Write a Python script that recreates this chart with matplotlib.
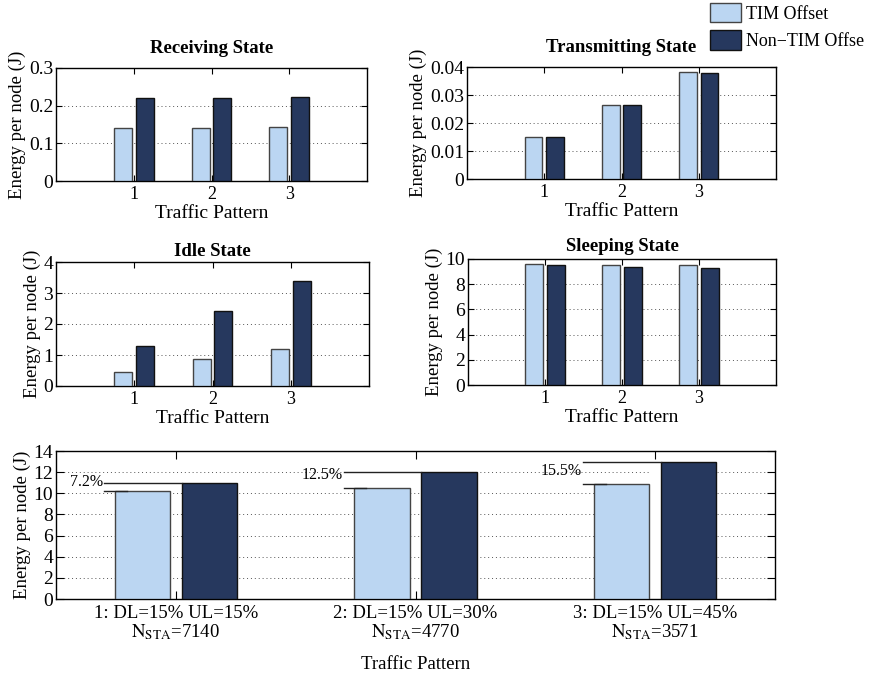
import matplotlib
matplotlib.use("Agg")
import matplotlib.pyplot as plt
from matplotlib.ticker import FormatStrFormatter
from matplotlib.patches import Patch

plt.rcParams["font.family"] = ["Liberation Serif", "DejaVu Serif"]
plt.rcParams["mathtext.fontset"] = "stix"

# ---- data ----
patterns = [1, 2, 3]
series_names = ["TIM Offset", "Non\u2212TIM Offse"]

receiving_tim = [0.1415, 0.142, 0.144]
receiving_non = [0.221, 0.221, 0.224]

transmitting_tim = [0.0150, 0.0265, 0.0383]
transmitting_non = [0.0150, 0.0264, 0.0380]

idle_tim = [0.46, 0.87, 1.19]
idle_non = [1.28, 2.42, 3.39]

sleeping_tim = [9.58, 9.55, 9.50]
sleeping_non = [9.50, 9.40, 9.32]

total_tim = [10.19, 10.52, 10.90]
total_non = [10.98, 12.02, 12.93]
saving_labels = ["7.2%", "12.5%", "15.5%"]

total_ticklabels = [
    "1: DL=15% UL=15%\n$\\mathrm{N}_{\\mathrm{STA}}$=7140",
    "2: DL=15% UL=30%\n$\\mathrm{N}_{\\mathrm{STA}}$=4770",
    "3: DL=15% UL=45%\n$\\mathrm{N}_{\\mathrm{STA}}$=3571",
]

# ---- style ----
LIGHT = "#BBD6F2"
DARK = "#26385E"
OFF = 0.14
BW = 0.23

W, H = 874, 676
fig = plt.figure(figsize=(W / 100, H / 100), dpi=100)


def add_axes(x0, y0, x1, y1):
    return fig.add_axes([x0 / W, 1 - y1 / H, (x1 - x0) / W, (y1 - y0) / H])


def style_axes(ax, ticks, ylim, xlim, xfs=13):
    ax.set_xlim(*xlim)
    ax.set_ylim(*ylim)
    ax.set_yticks(ticks)
    ax.yaxis.set_major_formatter(FormatStrFormatter("%g"))
    ax.grid(axis="y", linestyle=(0, (1, 3)), color="#555555", linewidth=0.7)
    ax.set_axisbelow(True)
    ax.tick_params(direction="in", top=True, right=True, length=4, width=0.8)
    ax.tick_params(axis="y", labelsize=14, pad=2)
    ax.tick_params(axis="x", labelsize=xfs, pad=3.5)
    for s in ax.spines.values():
        s.set_linewidth(1.0)
    ax.set_ylabel("Energy per node (J)", fontsize=13.5, labelpad=2)


def draw_bars(ax, tim, non):
    x = patterns
    ax.bar([p - OFF for p in x], tim, BW, color=LIGHT, edgecolor="#444444",
           linewidth=1.0, zorder=3)
    ax.bar([p + OFF for p in x], non, BW, color=DARK, edgecolor="#111111",
           linewidth=1.0, zorder=3)


small = [
    ((56, 68, 367, 181), receiving_tim, receiving_non, [0, 0.1, 0.2, 0.3],
     (0, 0.3), "Receiving State", 11),
    ((467, 67, 776, 179), transmitting_tim, transmitting_non,
     [0, 0.01, 0.02, 0.03, 0.04], (0, 0.04), "Transmitting State", 11),
    ((56, 262, 369, 386), idle_tim, idle_non, [0, 1, 2, 3, 4], (0, 4),
     "Idle State", 4.5),
    ((468, 259, 776, 385), sleeping_tim, sleeping_non, [0, 2, 4, 6, 8, 10],
     (0, 10), "Sleeping State", 6),
]

for box, tim, non, ticks, ylim, title, tpad in small:
    ax = add_axes(*box)
    draw_bars(ax, tim, non)
    style_axes(ax, ticks, ylim, (0, 4))
    ax.set_xticks(patterns)
    ax.set_xlabel("Traffic Pattern", fontsize=14, labelpad=1.5)
    ax.set_title(title, fontsize=13.5, fontweight="bold", pad=tpad)

# ---- total energy panel ----
ax = add_axes(56, 451, 775, 599)
draw_bars(ax, total_tim, total_non)
style_axes(ax, list(range(0, 15, 2)), (0, 14), (0.5, 3.5), xfs=13.5)
ax.tick_params(length=6)
ax.set_xticks(patterns)
ax.set_xticklabels(total_ticklabels, linespacing=1.05)
ax.tick_params(axis="x", pad=4)
ax.set_xlabel("Traffic Pattern", fontsize=13.5, labelpad=10)

# white gap between the third pair of bars
ax.bar(3, total_non[2], 0.05, color="white", edgecolor="none", zorder=2)

text_dy = [0.05, -0.3, -0.85]
for p, t, n, lab, dy in zip(patterns, total_tim, total_non, saving_labels, text_dy):
    x0 = p - 0.30
    ax.plot([x0, p - OFF - BW / 2 + 0.05], [t, t], color="#222222", lw=1.0, zorder=4)
    ax.plot([x0, p + OFF - BW / 2], [n, n], color="#222222", lw=1.0, zorder=4)
    ax.text(x0 - 0.005, n + dy, lab, ha="right", va="center", fontsize=11.5,
            zorder=5)

# ---- legend ----
handles = [
    Patch(facecolor=LIGHT, edgecolor="#444444", linewidth=1.0),
    Patch(facecolor=DARK, edgecolor="#111111", linewidth=1.0),
]
fig.legend(handles, series_names, loc="upper left",
           bbox_to_anchor=(708 / W, 1 - 1 / H), frameon=False, fontsize=13,
           handlelength=1.75, handleheight=1.3, handletextpad=0.25,
           labelspacing=0.4, borderaxespad=0, borderpad=0.1)

fig.savefig("out.png", dpi=100)
